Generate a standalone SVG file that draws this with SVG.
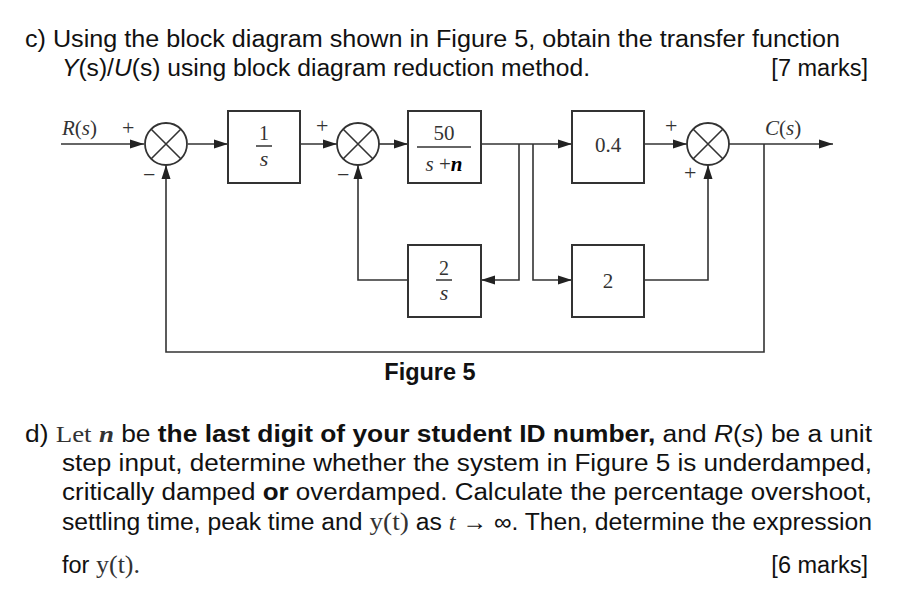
<svg xmlns="http://www.w3.org/2000/svg" width="910" height="602" viewBox="0 0 910 602">
<defs><marker id="a" viewBox="0 0 14 10" refX="14" refY="5" markerWidth="15" markerHeight="10" markerUnits="userSpaceOnUse" orient="auto"><path d="M0,0.5 L14,5 L0,9.5 z" fill="#222"/></marker></defs>
<style>
.t{font-family:"Liberation Sans",Arial,sans-serif;font-size:23.5px;fill:#111}
.s{font-family:"Liberation Serif","Times New Roman",serif;fill:#333}
.b{fill:#fff;stroke:#333;stroke-width:2}
.l{fill:none;stroke:#333;stroke-width:1.6}
.c{fill:#fff;stroke:#333;stroke-width:1.8}
</style>
<rect width="910" height="602" fill="#fff"/>
<text class="t" x="25" y="47" textLength="815" lengthAdjust="spacingAndGlyphs">c)  Using the block diagram shown in Figure 5, obtain the transfer function</text>
<text class="t" x="62" y="76" textLength="528" lengthAdjust="spacingAndGlyphs"><tspan font-style="italic">Y</tspan>(s)/<tspan font-style="italic">U</tspan>(s) using block diagram reduction method.</text>
<text class="t" x="868" y="76" text-anchor="end">[7 marks]</text>

<g id="connectors" class="l">
<path d="M61,144 H144" marker-end="url(#a)"/>
<path d="M188,144 H228" marker-end="url(#a)"/>
<path d="M300,144 H337" marker-end="url(#a)"/>
<path d="M379,144 H408" marker-end="url(#a)"/>
<path d="M481,144 H572" marker-end="url(#a)"/>
<path d="M644,144 H687" marker-end="url(#a)"/>
<path d="M729,144 H833" marker-end="url(#a)"/>
<path d="M519,144 V280 H481" marker-end="url(#a)"/>
<path d="M533,144 V280 H572" marker-end="url(#a)"/>
<path d="M408,280 H358 V165" marker-end="url(#a)"/>
<path d="M644,280 H708 V165" marker-end="url(#a)"/>
<path d="M764,144 V352 H166 V165" marker-end="url(#a)"/>
</g>
<g id="sum1"><circle class="c" cx="166" cy="144" r="21"/><path class="l" d="M151,129 L181,159 M181,129 L151,159"/></g>
<g id="sum2"><circle class="c" cx="358" cy="144" r="21"/><path class="l" d="M343,129 L373,159 M373,129 L343,159"/></g>
<g id="sum3"><circle class="c" cx="708" cy="144" r="21"/><path class="l" d="M693,129 L723,159 M723,129 L693,159"/></g>
<g id="b1"><rect class="b" x="228" y="111" width="72" height="72"/><text class="s" x="264" y="140" font-size="20" text-anchor="middle">1</text><line x1="256" y1="146" x2="272" y2="146" stroke="#333" stroke-width="1.5"/><text class="s" x="264" y="166" font-size="22" font-style="italic" text-anchor="middle">s</text></g>
<g id="b2"><rect class="b" x="408" y="111" width="73" height="72"/><text class="s" x="444" y="140" font-size="21" text-anchor="middle">50</text><line x1="417" y1="147" x2="471" y2="147" stroke="#333" stroke-width="1.5"/><text class="s" x="444" y="171" font-size="21" text-anchor="middle"><tspan font-style="italic">s</tspan> +<tspan font-weight="bold" font-style="italic" fill="#000">n</tspan></text></g>
<g id="b3"><rect class="b" x="572" y="111" width="72" height="72"/><text class="s" x="608" y="152" font-size="21" text-anchor="middle">0.4</text></g>
<g id="b4"><rect class="b" x="408" y="245" width="73" height="72"/><text class="s" x="444" y="275" font-size="20" text-anchor="middle">2</text><line x1="436" y1="280" x2="452" y2="280" stroke="#333" stroke-width="1.5"/><text class="s" x="444" y="300" font-size="22" font-style="italic" text-anchor="middle">s</text></g>
<g id="b5"><rect class="b" x="572" y="245" width="72" height="72"/><text class="s" x="608" y="288" font-size="21" text-anchor="middle">2</text></g>
<g class="s" font-size="22">
<text x="62" y="135" font-size="21"><tspan font-style="italic">R</tspan>(<tspan font-style="italic">s</tspan>)</text>
<text x="122" y="135">+</text><text x="143" y="182">−</text>
<text x="316" y="133">+</text><text x="337" y="182">−</text>
<text x="665" y="133">+</text><text x="684" y="180">+</text>
<text x="765" y="135" font-size="21"><tspan font-style="italic">C</tspan>(<tspan font-style="italic">s</tspan>)</text>
</g>
<text class="t" x="430" y="380" text-anchor="middle" font-weight="bold" font-size="21">Figure 5</text>

<text class="t" x="25" y="442" textLength="847" lengthAdjust="spacingAndGlyphs">d)  <tspan class="s" font-size="24" fill="#111">Let</tspan> <tspan class="s" font-size="24" font-weight="bold" font-style="italic" fill="#111">n</tspan> be <tspan font-weight="bold">the last digit of your student ID number,</tspan> and <tspan font-style="italic">R</tspan>(<tspan font-style="italic">s</tspan>) be a unit</text>
<text class="t" x="62" y="471" textLength="810" lengthAdjust="spacingAndGlyphs">step input, determine whether the system in Figure 5 is underdamped,</text>
<text class="t" x="62" y="500" textLength="810" lengthAdjust="spacingAndGlyphs">critically damped <tspan font-weight="bold">or</tspan> overdamped. Calculate the percentage overshoot,</text>
<text class="t" x="62" y="530" textLength="810" lengthAdjust="spacingAndGlyphs">settling time, peak time and <tspan class="s" font-size="26" fill="#111">y(t)</tspan> as <tspan class="s" font-style="italic" fill="#111">t</tspan> → ∞. Then, determine the expression</text>
<text class="t" x="62" y="573">for <tspan class="s" font-size="26" fill="#111">y(t).</tspan></text>
<text class="t" x="868" y="573" text-anchor="end">[6 marks]</text>
</svg>
